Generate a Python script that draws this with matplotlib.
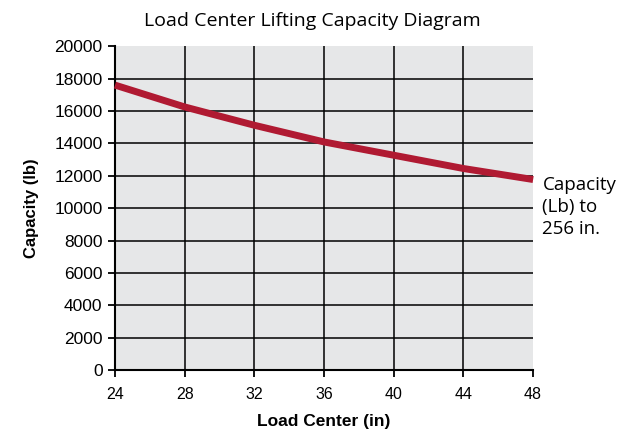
import matplotlib.pyplot as plt

# Load center (in) and capacity (lb)
load_center = [24, 28, 32, 36, 40, 44, 48]
capacity = [17600, 16250, 15120, 14090, 13270, 12450, 11770]

x_ticks = [24, 28, 32, 36, 40, 44, 48]
y_ticks = list(range(0, 20001, 2000))

fig = plt.figure(figsize=(6.25, 4.36), dpi=100)
ax = fig.add_axes([0.184, 0.151, 0.669, 0.743])
ax.set_facecolor("#e6e7e8")

# grid lines (inner only)
for xv in x_ticks[1:-1]:
    ax.axvline(xv, color="black", lw=1.1, zorder=1)
for yv in y_ticks[1:-1]:
    ax.axhline(yv, color="black", lw=1.1, zorder=1)

ax.plot(load_center, capacity, color="#b01a32", lw=5, solid_capstyle="butt", zorder=3, clip_on=False)

ax.set_xlim(24, 48)
ax.set_ylim(0, 20000)
ax.set_xticks(x_ticks)
ax.set_yticks(y_ticks)
for s in ["top", "right"]:
    ax.spines[s].set_visible(False)
for s in ["left", "bottom"]:
    ax.spines[s].set_linewidth(1.5)
ax.tick_params(direction="out", length=5, width=1.3)
ax.tick_params(axis="x", labelsize=11.5, pad=7)
ax.tick_params(axis="y", labelsize=12.5, pad=4)
for lab in ax.get_xticklabels() + ax.get_yticklabels():
    lab.set_family("Liberation Sans")

ax.set_xlabel("Load Center (in)", fontsize=12.5, fontweight="bold", family="Liberation Sans", labelpad=9)
ax.set_ylabel("Capacity (lb)", fontsize=12, fontweight="bold", family="Liberation Sans", labelpad=11)

fig.text(0.5, 0.952, "Load Center Lifting Capacity Diagram", ha="center", va="center",
         fontsize=14, family="Open Sans")
fig.text(0.868, 0.525, "Capacity\n(Lb) to\n256 in.", ha="left", va="center",
         fontsize=13.5, family="Open Sans", linespacing=1.3)

fig.savefig("out.png", dpi=100)
